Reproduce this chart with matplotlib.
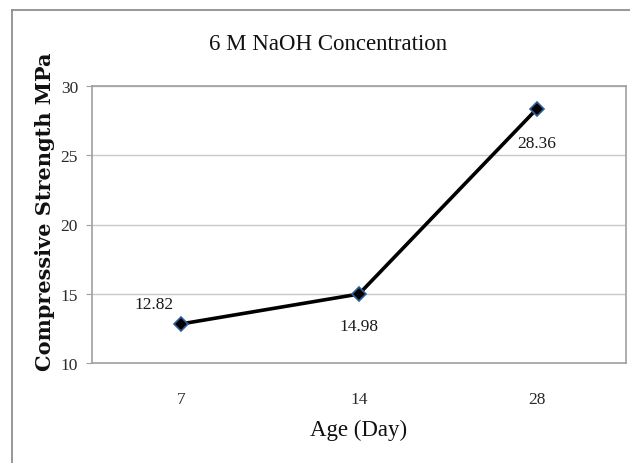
import matplotlib
matplotlib.use("Agg")
import matplotlib.pyplot as plt
from matplotlib.lines import Line2D

# data
ages = ["7", "14", "28"]
strength = [12.82, 14.98, 28.36]
yticks = [10, 15, 20, 25, 30]

W, H = 630, 464
fig = plt.figure(figsize=(W / 100, H / 100), dpi=100)
ax = fig.add_axes([92 / W, 1 - 364 / H, (626 - 92) / W, (364 - 87) / H])

x = range(len(ages))
ax.plot(x, strength, color="black", lw=2.6, zorder=3)
ax.plot(x, strength, ls="none", marker="D", ms=7, mfc="black", mec="#2f5f9a",
        mew=1.2, zorder=4)

ax.set_xlim(-0.5, len(ages) - 0.5)
ax.set_ylim(10, 30)
ax.set_yticks(yticks)
ax.set_xticks(list(x))
ax.set_xticklabels(ages)
ax.grid(axis="y", color="#c8c8c8", lw=1)
ax.set_axisbelow(True)

for s in ax.spines.values():
    s.set_color("#a0a0a0")
    s.set_linewidth(1.2)

serif = ["Liberation Serif", "DejaVu Serif"]
ax.tick_params(axis="y", length=4, color="#a0a0a0", pad=6, labelsize=12.5,
               labelcolor="#2a2a2a")
ax.tick_params(axis="x", length=0, pad=20, labelsize=12.5, labelcolor="#2a2a2a")
for lab in ax.get_xticklabels() + ax.get_yticklabels():
    lab.set_family(serif)

# data labels
offsets = [(-27, 20), (0, -32), (0, -34)]
for i, (v, off) in enumerate(zip(strength, offsets)):
    ax.annotate(f"{v:.2f}", (i, v), xytext=off, textcoords="offset pixels",
                ha="center", va="center", fontsize=12.5, family=serif,
                color="#1a1a1a")

fig.text(328 / W, 1 - 45 / H, "6 M NaOH Concentration", ha="center",
         va="center", fontsize=16.5, family=serif, color="#111111")
fig.text(359 / W, 1 - 430 / H, "Age (Day)", ha="center", va="center",
         fontsize=16.5, family=serif, color="#111111")
fig.text(45 / W, 1 - 212 / H, "Compressive Strength MPa", ha="center",
         va="center", rotation=90, fontsize=15, fontweight="bold",
         family=["DejaVu Serif"], color="#111111")

# outer chart frame
fig.add_artist(Line2D([12 / W, 12 / W], [0, 1 - 11 / H], color="#909090",
                      lw=1.3, transform=fig.transFigure))
fig.add_artist(Line2D([12 / W, 1], [1 - 11 / H, 1 - 11 / H], color="#909090",
                      lw=1.3, transform=fig.transFigure))

fig.savefig("out.png", dpi=100, facecolor="white")
